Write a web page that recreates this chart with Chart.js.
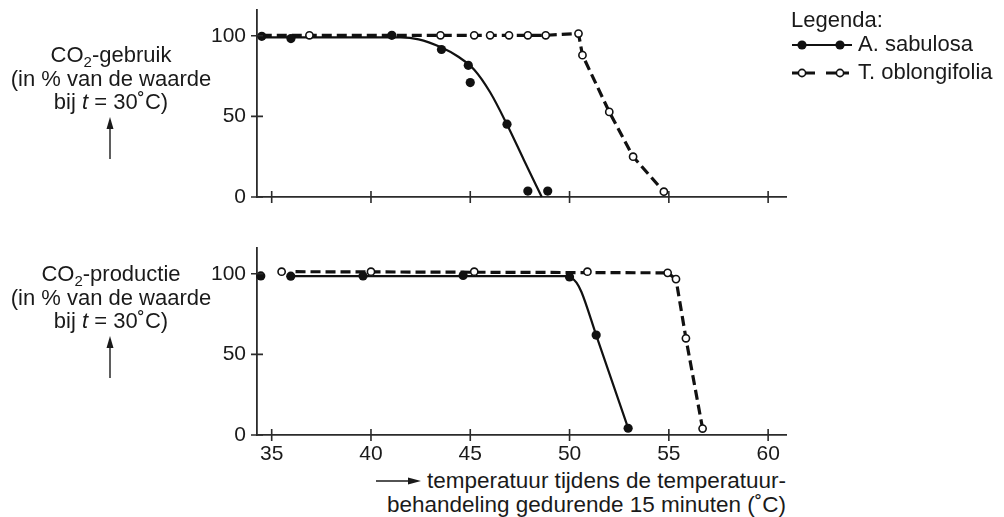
<!DOCTYPE html>
<html lang="nl">
<head>
<meta charset="UTF-8" />
<title>CO2-gebruik en CO2-productie</title>
<script src="https://cdn.jsdelivr.net/npm/chart.js"></script>
<style>
  body { margin:0; width:1004px; height:517px; background:#fff; position:relative; overflow:hidden;
         font-family:"Liberation Sans", Arial, sans-serif; color:#1a1a1a; }
  canvas { position:absolute; left:200px; }
  .ylab { position:absolute; left:1px; width:220px; text-align:center; font-size:22px; line-height:23.5px; }
  .ylab sub { font-size:15px; vertical-align:-5px; line-height:0; }
  .arrow { position:absolute; left:104px; }
  .leg { position:absolute; left:791px; font-size:22px; white-space:nowrap; }
  .leg svg { position:absolute; left:0; }
  .xlab { position:absolute; right:218px; text-align:right; font-size:22.5px; line-height:24px; white-space:nowrap; }
</style>
</head>
<body>

<canvas id="topChart" width="600" height="230" style="top:0"></canvas>
<canvas id="botChart" width="600" height="230" style="top:238px"></canvas>

<!-- y labels -->
<div class="ylab" style="top:43px">CO<sub>2</sub>-gebruik<br>(in % van de waarde<br>bij <i>t</i> = 30˚C)</div>
<svg class="arrow" style="top:116px" width="12" height="44"><line x1="6" y1="43" x2="6" y2="8" stroke="#1a1a1a" stroke-width="1.4"/><path d="M2.5 13 L6 1 L9.5 13 Z" fill="#1a1a1a"/></svg>

<div class="ylab" style="top:262px">CO<sub>2</sub>-productie<br>(in % van de waarde<br>bij <i>t</i> = 30˚C)</div>
<svg class="arrow" style="top:335px" width="12" height="44"><line x1="6" y1="43" x2="6" y2="8" stroke="#1a1a1a" stroke-width="1.4"/><path d="M2.5 13 L6 1 L9.5 13 Z" fill="#1a1a1a"/></svg>

<!-- legend -->
<div class="leg" style="top:7px">Legenda:</div>
<div class="leg" style="top:31px">
  <svg width="64" height="28" style="top:0"><line x1="1" y1="14" x2="61" y2="14" stroke="#111" stroke-width="2.2"/><circle cx="11" cy="14" r="4.6" fill="#111"/><circle cx="49" cy="14" r="4.6" fill="#111"/></svg>
  <span style="position:absolute;left:67px;top:0">A. sabulosa</span>
</div>
<div class="leg" style="top:59px">
  <svg width="64" height="28" style="top:0"><line x1="1" y1="14" x2="61" y2="14" stroke="#111" stroke-width="3" stroke-dasharray="23 11"/><circle cx="11" cy="14" r="3.6" fill="#fff" stroke="#111" stroke-width="1.6"/><circle cx="49" cy="14" r="3.6" fill="#fff" stroke="#111" stroke-width="1.6"/></svg>
  <span style="position:absolute;left:67px;top:0">T. oblongifolia</span>
</div>

<!-- x label -->
<div class="xlab" style="top:469px"><svg width="46" height="12" style="vertical-align:1px;margin-right:5px"><line x1="0" y1="6" x2="36" y2="6" stroke="#1a1a1a" stroke-width="1.4"/><path d="M32 2.5 L45 6 L32 9.5 Z" fill="#1a1a1a"/></svg>temperatuur tijdens de temperatuur-<br>behandeling gedurende 15 minuten (˚C)</div>

<script>
// axis ticks
const tempTicks = [35, 40, 45, 50, 55, 60];
const pctTicks  = [0, 50, 100];
const xMin = 34.26, xMax = 60.9;
const yMin = 0, yMax = 116;

// CO2-gebruik -------------------------------------------------
const gebruikSabT = [34.5, 35.97, 41.05, 43.55, 44.9, 45.0, 46.85, 47.9, 48.9];
const gebruikSabV = [99.7, 98.3, 100.3, 91.5, 81.7, 71.0, 45.2, 3.7, 3.7];
// fitted curve A. sabulosa
const gebruikSabCurveT = [34.5, 41.5, 42.4, 43.5, 44.4, 45.2, 46.0, 46.85, 47.7, 48.6];
const gebruikSabCurveV = [99, 99, 97.8, 93, 87, 79, 65, 45, 23, 0];

const gebruikOblT = [36.9, 43.5, 45.2, 46.0, 46.95, 47.9, 48.8, 50.45, 50.65, 52.0, 53.2, 54.75];
const gebruikOblV = [100.3, 100.3, 100.3, 100.3, 100.3, 100.3, 100.3, 101.4, 88, 52.8, 25, 3.3];
const gebruikOblLineT = [34.5, 48.8, 50.45, 50.65, 52.0, 53.2, 54.75];
const gebruikOblLineV = [100.3, 100.3, 101.4, 88, 52.8, 25, 3.3];

// CO2-productie -----------------------------------------------
const prodSabT = [34.45, 35.96, 39.6, 44.64, 50.0, 51.34, 52.95];
const prodSabV = [98.7, 98.5, 98.7, 99, 98, 62, 4.2];
const prodSabCurveT = [35.96, 49.8, 50.1, 50.35, 50.6, 51.34, 52.95];
const prodSabCurveV = [98.5, 98.5, 97.5, 94.5, 88.7, 62, 4.2];

const prodOblT = [35.5, 40.0, 45.2, 50.9, 54.94, 55.36, 55.86, 56.7];
const prodOblV = [101.3, 101.3, 101.3, 101.3, 100.6, 96.7, 60, 4];
const prodOblLineT = [36.2, 54.94, 55.36, 55.86, 56.7];
const prodOblLineV = [101.3, 100.6, 96.7, 60, 4];

// helpers ----------------------------------------------------
const ink = '#111';
const axisInk = '#2b2b2b';
const fontFam = '"Liberation Sans", Arial, sans-serif';
const xy = (ts, vs) => ts.map((t, i) => ({x: t, y: vs[i]}));

const filledPts = (ts, vs) => ({data: xy(ts, vs), showLine: false, pointRadius: 4.6,
  pointBackgroundColor: ink, pointBorderWidth: 0, clip: false});
const openPts = (ts, vs) => ({data: xy(ts, vs), showLine: false, pointRadius: 3.6,
  pointBackgroundColor: '#fff', pointBorderColor: ink, pointBorderWidth: 1.6, clip: false});
const solidLine = (ts, vs) => ({data: xy(ts, vs), showLine: true, pointRadius: 0,
  borderColor: ink, borderWidth: 2.2, cubicInterpolationMode: 'monotone', clip: false});
const dashedLine = (ts, vs) => ({data: xy(ts, vs), showLine: true, pointRadius: 0,
  borderColor: ink, borderWidth: 3.2, borderDash: [10, 5], tension: 0, clip: false});

// tick marks that cross the axis lines
const crossTicks = {
  id: 'crossTicks',
  afterDraw(chart) {
    const {ctx, scales: {x, y}, chartArea: a} = chart;
    ctx.save();
    ctx.strokeStyle = axisInk;
    ctx.lineWidth = 1.6;
    ctx.beginPath();
    tempTicks.forEach(v => { const px = x.getPixelForValue(v); ctx.moveTo(px, a.bottom - 6); ctx.lineTo(px, a.bottom + 6); });
    pctTicks.forEach(v => { const py = y.getPixelForValue(v); ctx.moveTo(a.left - 6, py); ctx.lineTo(a.left + 6, py); });
    ctx.stroke();
    ctx.restore();
  }
};

function makeChart(id, datasets, showXLabels) {
  return new Chart(document.getElementById(id), {
    type: 'scatter',
    data: {datasets},
    options: {
      responsive: false, animation: false, devicePixelRatio: 1,
      layout: {padding: {top: 10, right: 14, left: 0, bottom: 0}},
      plugins: {legend: {display: false}, tooltip: {enabled: false}},
      scales: {
        x: {
          type: 'linear', min: xMin, max: xMax,
          afterBuildTicks: s => { s.ticks = tempTicks.map(v => ({value: v})); },
          afterFit: s => { s.height = 33; s.paddingLeft = 0; s.paddingRight = 0; },
          grid: {display: false, drawTicks: false},
          border: {display: true, color: axisInk, width: 1.8},
          ticks: {display: showXLabels, color: '#1a1a1a', padding: 7, maxRotation: 0,
                  font: {size: 21, family: fontFam}}
        },
        y: {
          type: 'linear', min: yMin, max: yMax,
          afterBuildTicks: s => { s.ticks = pctTicks.map(v => ({value: v})); },
          afterFit: s => { s.width = 57; s.paddingTop = 0; s.paddingBottom = 0; },
          grid: {display: false, drawTicks: false},
          border: {display: true, color: axisInk, width: 1.8},
          ticks: {color: '#1a1a1a', padding: 11, font: {size: 21, family: fontFam}}
        }
      }
    },
    plugins: [crossTicks]
  });
}

makeChart('topChart', [
  filledPts(gebruikSabT, gebruikSabV),
  openPts(gebruikOblT, gebruikOblV),
  solidLine(gebruikSabCurveT, gebruikSabCurveV),
  dashedLine(gebruikOblLineT, gebruikOblLineV)
], false);

makeChart('botChart', [
  filledPts(prodSabT, prodSabV),
  openPts(prodOblT, prodOblV),
  solidLine(prodSabCurveT, prodSabCurveV),
  dashedLine(prodOblLineT, prodOblLineV)
], true);
</script>
</body>
</html>
